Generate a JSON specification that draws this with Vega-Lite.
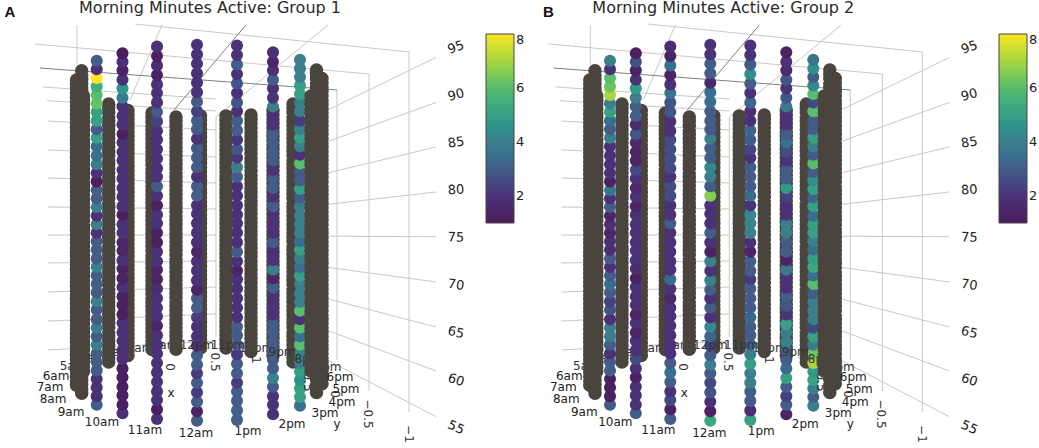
{
"$schema":"https://vega.github.io/schema/vega-lite/v6.json",
"width":1039,"height":448,"padding":0,
"autosize":{"type":"fit","contains":"padding"},
"config":{"view":{"stroke":null},"font":"DejaVu Sans"},
"datasets":{
"grid":[
{"x":436,"y":93.95,"x2":300,"y2":87.0},{"x":436,"y":89.21,"x2":300,"y2":84.05},{"x":436,"y":84.53,"x2":300,"y2":81.09},{"x":436,"y":79.79,"x2":300,"y2":78.15},{"x":436,"y":75.08,"x2":300,"y2":75.16},{"x":436,"y":70.32,"x2":300,"y2":72.25},{"x":436,"y":65.58,"x2":300,"y2":69.3},{"x":436,"y":60.95,"x2":300,"y2":66.3},{"x":436,"y":56.14,"x2":300,"y2":63.6},
{"x":43,"y":90.84,"x2":216,"y2":89.58},{"x":47,"y":89.4,"x2":216,"y2":88.32},{"x":48,"y":87.26,"x2":216,"y2":86.32},{"x":48,"y":84.21,"x2":216,"y2":83.47},{"x":48,"y":81.26,"x2":216,"y2":80.74},{"x":48,"y":78.21,"x2":216,"y2":78},{"x":48,"y":75.26,"x2":216,"y2":75.26},{"x":48,"y":72.32,"x2":216,"y2":72.53},{"x":48,"y":69.26,"x2":216,"y2":69.79},{"x":48,"y":66.21,"x2":216,"y2":66.95},{"x":48,"y":63.16,"x2":216,"y2":64.1},
{"x":77,"y":97.37,"x2":77,"y2":93.16},{"x":135,"y":97.47,"x2":409,"y2":94.53},{"x":35,"y":95.37,"x2":369,"y2":92.21},{"x":337,"y":90.53,"x2":337,"y2":62.11},{"x":369,"y":92.21,"x2":369,"y2":58.84},{"x":409,"y":94.53,"x2":409,"y2":56.63},{"x":216,"y":87.68,"x2":216,"y2":64.53},{"x":216,"y":87.68,"x2":328,"y2":97.37},{"x":130,"y":89.47,"x2":162,"y2":97.37}
],
"gridDark":[{"x":40,"y":92.84,"x2":337,"y2":90.53},{"x":174,"y":88.42,"x2":246,"y2":97.37}],
"zticks":[{"x":456,"y":95},{"x":456,"y":90},{"x":456,"y":85},{"x":456,"y":80},{"x":456,"y":75},{"x":456,"y":70},{"x":456,"y":65},{"x":456,"y":60},{"x":456,"y":55}],
"labelsUnder":[{"x":73,"y":61.47,"t":"5am"},{"x":92,"y":62.32,"t":"4am"},{"x":118,"y":62.95,"t":"3am"},{"x":140,"y":63.37,"t":"2am"},{"x":165,"y":63.68,"t":"1am"},{"x":256,"y":63.37,"t":"10pm"},{"x":328,"y":61.37,"t":"7pm"}],
"labelsTop":[{"x":197,"y":63.68,"t":"12pm"},{"x":228,"y":63.68,"t":"11pm"},{"x":282,"y":62.95,"t":"9pm"},{"x":308,"y":62.21,"t":"8pm"}],
"labelsFront":[{"x":56,"y":60.42,"t":"6am"},{"x":50,"y":59.26,"t":"7am"},{"x":53,"y":58.0,"t":"8am"},{"x":71,"y":56.63,"t":"9am"},{"x":102,"y":55.58,"t":"10am"},{"x":145,"y":54.74,"t":"11am"},{"x":196,"y":54.42,"t":"12am"},{"x":248,"y":54.63,"t":"1pm"},{"x":292,"y":55.37,"t":"2pm"},{"x":325,"y":56.53,"t":"3pm"},{"x":342,"y":57.68,"t":"4pm"},{"x":346,"y":59.05,"t":"5pm"},{"x":340,"y":60.32,"t":"6pm"},{"x":171,"y":58.63,"t":"x"},{"x":337,"y":55.37,"t":"y"}],
"axisTicks":[{"x":170,"y":61.37,"t":"0"},{"x":215,"y":61.89,"t":"0.5"},{"x":256,"y":62.11,"t":"1"},{"x":308,"y":59.79,"t":"0.5"},{"x":335,"y":58.53,"t":"0"},{"x":368,"y":56.42,"t":"−0.5"},{"x":409,"y":54.32,"t":"−1"}],
"darkBack":[{"hour":"4am","x":108.7,"y":89.05,"y2":61.89},{"hour":"3am","x":128,"y":88.37,"y2":62.56},{"hour":"2am","x":152,"y":88.1,"y2":62.95},{"hour":"1am","x":176,"y":87.68,"y2":63.16},{"hour":"12pm","x":200.5,"y":87.8,"y2":63.16},{"hour":"11pm","x":226,"y":87.8,"y2":63.16},{"hour":"10pm","x":251,"y":87.9,"y2":62.95},{"hour":"9pm","x":273,"y":88.37,"y2":62.56},{"hour":"8pm","x":293,"y":89.05,"y2":61.58}],
"darkFront":[{"hour":"5am","x":83.5,"y":89.9,"y2":60.74},{"hour":"6am","x":77,"y":90.74,"y2":60.0},{"hour":"7am","x":76.5,"y":91.58,"y2":59.26},{"hour":"8am","x":81.7,"y":92.56,"y2":58.32},{"hour":"7pm","x":311,"y":89.9,"y2":60.74},{"hour":"6pm","x":318,"y":90.74,"y2":60.0},{"hour":"5pm","x":322,"y":91.74,"y2":59.21},{"hour":"4pm","x":316.5,"y":92.63,"y2":58.24}],
"dots":[
{"hour":"9am","x":96.7,"y":57.4,"g1":3,"g2":3},{"hour":"9am","x":96.7,"y":58.3,"g1":2,"g2":1.2},{"hour":"9am","x":96.7,"y":59.2,"g1":2,"g2":1.2},{"hour":"9am","x":96.7,"y":60.1,"g1":2,"g2":1.2},{"hour":"9am","x":96.7,"y":61.0,"g1":3,"g2":3},{"hour":"9am","x":96.7,"y":61.9,"g1":3,"g2":3},{"hour":"9am","x":96.7,"y":62.8,"g1":3,"g2":2},{"hour":"9am","x":96.7,"y":63.7,"g1":4,"g2":3},{"hour":"9am","x":96.7,"y":64.6,"g1":3,"g2":4},{"hour":"9am","x":96.7,"y":65.5,"g1":4,"g2":4},{"hour":"9am","x":96.7,"y":66.4,"g1":3,"g2":2},{"hour":"9am","x":96.7,"y":67.4,"g1":3,"g2":2.7},{"hour":"9am","x":96.7,"y":68.3,"g1":4,"g2":2.3},{"hour":"9am","x":96.7,"y":69.2,"g1":3,"g2":3},{"hour":"9am","x":96.7,"y":70.1,"g1":3,"g2":3.5},{"hour":"9am","x":96.7,"y":71.0,"g1":3,"g2":3},{"hour":"9am","x":96.7,"y":71.9,"g1":4,"g2":2},{"hour":"9am","x":96.7,"y":72.8,"g1":3,"g2":3},{"hour":"9am","x":96.7,"y":73.7,"g1":3,"g2":1.8},{"hour":"9am","x":96.7,"y":74.6,"g1":3,"g2":2},{"hour":"9am","x":96.7,"y":75.5,"g1":2,"g2":1.5},{"hour":"9am","x":96.7,"y":76.4,"g1":4,"g2":2},{"hour":"9am","x":96.7,"y":77.3,"g1":2,"g2":1.4},{"hour":"9am","x":96.7,"y":78.2,"g1":4,"g2":3},{"hour":"9am","x":96.7,"y":79.1,"g1":3,"g2":2},{"hour":"9am","x":96.7,"y":80.0,"g1":3,"g2":3.7},{"hour":"9am","x":96.7,"y":80.9,"g1":1.2,"g2":1.3},{"hour":"9am","x":96.7,"y":81.8,"g1":2,"g2":2},{"hour":"9am","x":96.7,"y":82.7,"g1":4,"g2":2},{"hour":"9am","x":96.7,"y":83.6,"g1":3.5,"g2":2},{"hour":"9am","x":96.7,"y":84.6,"g1":3.5,"g2":2},{"hour":"9am","x":96.7,"y":85.5,"g1":5,"g2":4},{"hour":"9am","x":96.7,"y":86.4,"g1":3,"g2":3},{"hour":"9am","x":96.7,"y":87.3,"g1":5,"g2":3.5},{"hour":"9am","x":96.7,"y":88.2,"g1":5,"g2":5},{"hour":"9am","x":96.7,"y":89.1,"g1":6.2,"g2":4},{"hour":"9am","x":96.7,"y":90.0,"g1":6,"g2":7},{"hour":"9am","x":96.7,"y":90.9,"g1":5.5,"g2":6.3},{"hour":"9am","x":96.7,"y":91.8,"g1":8,"g2":6},{"hour":"9am","x":96.7,"y":92.7,"g1":2,"g2":2},{"hour":"9am","x":96.7,"y":93.6,"g1":3,"g2":4},
{"hour":"10am","x":122.5,"y":56.5,"g1":2,"g2":3},{"hour":"10am","x":122.5,"y":57.4,"g1":1.2,"g2":2},{"hour":"10am","x":122.5,"y":58.4,"g1":1.2,"g2":2},{"hour":"10am","x":122.5,"y":59.3,"g1":1.2,"g2":2},{"hour":"10am","x":122.5,"y":60.3,"g1":1.2,"g2":1.3},{"hour":"10am","x":122.5,"y":61.2,"g1":1.2,"g2":2},{"hour":"10am","x":122.5,"y":62.2,"g1":2,"g2":2.5},{"hour":"10am","x":122.5,"y":63.1,"g1":2,"g2":2},{"hour":"10am","x":122.5,"y":64.1,"g1":2,"g2":2},{"hour":"10am","x":122.5,"y":65.0,"g1":2,"g2":1.4},{"hour":"10am","x":122.5,"y":66.0,"g1":2,"g2":2},{"hour":"10am","x":122.5,"y":66.9,"g1":1.2,"g2":1.4},{"hour":"10am","x":122.5,"y":67.9,"g1":1.3,"g2":2},{"hour":"10am","x":122.5,"y":68.8,"g1":1.3,"g2":2},{"hour":"10am","x":122.5,"y":69.8,"g1":2,"g2":2},{"hour":"10am","x":122.5,"y":70.7,"g1":1.3,"g2":1.3},{"hour":"10am","x":122.5,"y":71.7,"g1":1.3,"g2":1.8},{"hour":"10am","x":122.5,"y":72.6,"g1":2,"g2":2},{"hour":"10am","x":122.5,"y":73.6,"g1":1.5,"g2":2},{"hour":"10am","x":122.5,"y":74.5,"g1":1.5,"g2":2},{"hour":"10am","x":122.5,"y":75.5,"g1":2,"g2":2},{"hour":"10am","x":122.5,"y":76.4,"g1":2,"g2":2},{"hour":"10am","x":122.5,"y":77.4,"g1":1.2,"g2":2},{"hour":"10am","x":122.5,"y":78.3,"g1":2,"g2":1.4},{"hour":"10am","x":122.5,"y":79.3,"g1":2,"g2":2},{"hour":"10am","x":122.5,"y":80.2,"g1":2,"g2":1.6},{"hour":"10am","x":122.5,"y":81.2,"g1":2,"g2":2},{"hour":"10am","x":122.5,"y":82.1,"g1":2,"g2":2.5},{"hour":"10am","x":122.5,"y":83.1,"g1":2,"g2":1.4},{"hour":"10am","x":122.5,"y":84.0,"g1":2,"g2":1.4},{"hour":"10am","x":122.5,"y":85.0,"g1":2,"g2":1.6},{"hour":"10am","x":122.5,"y":85.9,"g1":1.2,"g2":2.8},{"hour":"10am","x":122.5,"y":86.9,"g1":2,"g2":1.7},{"hour":"10am","x":122.5,"y":87.8,"g1":2,"g2":3},{"hour":"10am","x":122.5,"y":88.8,"g1":2,"g2":3},{"hour":"10am","x":122.5,"y":89.7,"g1":3.9,"g2":4},{"hour":"10am","x":122.5,"y":90.7,"g1":4.7,"g2":4.8},{"hour":"10am","x":122.5,"y":91.6,"g1":2,"g2":2},{"hour":"10am","x":122.5,"y":92.6,"g1":1.3,"g2":1.3},{"hour":"10am","x":122.5,"y":93.5,"g1":2,"g2":2.7},{"hour":"10am","x":122.5,"y":94.4,"g1":1,"g2":1.2},
{"hour":"11am","x":157,"y":55.9,"g1":2,"g2":3},{"hour":"11am","x":157,"y":56.9,"g1":1.2,"g2":1.3},{"hour":"11am","x":157,"y":57.9,"g1":2,"g2":2.5},{"hour":"11am","x":157,"y":58.8,"g1":2,"g2":2},{"hour":"11am","x":157,"y":59.8,"g1":2,"g2":3},{"hour":"11am","x":157,"y":60.8,"g1":2,"g2":3.5},{"hour":"11am","x":157,"y":61.8,"g1":2,"g2":3},{"hour":"11am","x":157,"y":62.8,"g1":2,"g2":2},{"hour":"11am","x":157,"y":63.7,"g1":2,"g2":2},{"hour":"11am","x":157,"y":64.7,"g1":2,"g2":2},{"hour":"11am","x":157,"y":65.7,"g1":1.5,"g2":2},{"hour":"11am","x":157,"y":66.7,"g1":2,"g2":2},{"hour":"11am","x":157,"y":67.6,"g1":2,"g2":2},{"hour":"11am","x":157,"y":68.6,"g1":2,"g2":1.6},{"hour":"11am","x":157,"y":69.6,"g1":1.8,"g2":2},{"hour":"11am","x":157,"y":70.6,"g1":1.4,"g2":3.4},{"hour":"11am","x":157,"y":71.6,"g1":1.4,"g2":2},{"hour":"11am","x":157,"y":72.5,"g1":2,"g2":2},{"hour":"11am","x":157,"y":73.5,"g1":2,"g2":2},{"hour":"11am","x":157,"y":74.5,"g1":1.3,"g2":2},{"hour":"11am","x":157,"y":75.5,"g1":1.3,"g2":2},{"hour":"11am","x":157,"y":76.5,"g1":2,"g2":3},{"hour":"11am","x":157,"y":77.4,"g1":2,"g2":2},{"hour":"11am","x":157,"y":78.4,"g1":1.3,"g2":2},{"hour":"11am","x":157,"y":79.4,"g1":2,"g2":2.6},{"hour":"11am","x":157,"y":80.4,"g1":3,"g2":2.6},{"hour":"11am","x":157,"y":81.4,"g1":2,"g2":2},{"hour":"11am","x":157,"y":82.3,"g1":2,"g2":2.6},{"hour":"11am","x":157,"y":83.3,"g1":2,"g2":2.6},{"hour":"11am","x":157,"y":84.3,"g1":2,"g2":2.6},{"hour":"11am","x":157,"y":85.3,"g1":2,"g2":2.6},{"hour":"11am","x":157,"y":86.2,"g1":2,"g2":1.9},{"hour":"11am","x":157,"y":87.2,"g1":2.3,"g2":1.9},{"hour":"11am","x":157,"y":88.2,"g1":3,"g2":2.8},{"hour":"11am","x":157,"y":89.2,"g1":2,"g2":2.8},{"hour":"11am","x":157,"y":90.2,"g1":2,"g2":3.7},{"hour":"11am","x":157,"y":91.1,"g1":2,"g2":2},{"hour":"11am","x":157,"y":92.1,"g1":1.3,"g2":1.4},{"hour":"11am","x":157,"y":93.1,"g1":1.8,"g2":3.5},{"hour":"11am","x":157,"y":94.1,"g1":1.2,"g2":1.3},{"hour":"11am","x":157,"y":95.1,"g1":2,"g2":1.8},
{"hour":"12am","x":197,"y":55.7,"g1":3,"g2":5.3},{"hour":"12am","x":197,"y":56.7,"g1":1.4,"g2":1.3},{"hour":"12am","x":197,"y":57.7,"g1":3,"g2":2},{"hour":"12am","x":197,"y":58.7,"g1":2.2,"g2":2.8},{"hour":"12am","x":197,"y":59.7,"g1":3,"g2":2.5},{"hour":"12am","x":197,"y":60.7,"g1":2.2,"g2":3},{"hour":"12am","x":197,"y":61.6,"g1":3,"g2":4},{"hour":"12am","x":197,"y":62.6,"g1":3,"g2":3},{"hour":"12am","x":197,"y":63.6,"g1":2,"g2":2.3},{"hour":"12am","x":197,"y":64.6,"g1":2,"g2":3.3},{"hour":"12am","x":197,"y":65.6,"g1":2,"g2":4.2},{"hour":"12am","x":197,"y":66.6,"g1":2.2,"g2":2},{"hour":"12am","x":197,"y":67.6,"g1":3,"g2":3},{"hour":"12am","x":197,"y":68.6,"g1":3,"g2":2},{"hour":"12am","x":197,"y":69.5,"g1":1.5,"g2":3},{"hour":"12am","x":197,"y":70.5,"g1":2,"g2":4},{"hour":"12am","x":197,"y":71.5,"g1":2,"g2":2},{"hour":"12am","x":197,"y":72.5,"g1":2,"g2":4},{"hour":"12am","x":197,"y":73.5,"g1":1.5,"g2":1.3},{"hour":"12am","x":197,"y":74.5,"g1":2,"g2":2},{"hour":"12am","x":197,"y":75.5,"g1":2,"g2":3},{"hour":"12am","x":197,"y":76.5,"g1":2,"g2":2},{"hour":"12am","x":197,"y":77.5,"g1":2,"g2":2},{"hour":"12am","x":197,"y":78.4,"g1":2,"g2":2},{"hour":"12am","x":197,"y":79.4,"g1":3,"g2":6.6},{"hour":"12am","x":197,"y":80.4,"g1":3,"g2":3},{"hour":"12am","x":197,"y":81.4,"g1":2,"g2":4},{"hour":"12am","x":197,"y":82.4,"g1":3,"g2":4.2},{"hour":"12am","x":197,"y":83.4,"g1":3,"g2":3},{"hour":"12am","x":197,"y":84.4,"g1":3,"g2":3},{"hour":"12am","x":197,"y":85.4,"g1":2,"g2":4},{"hour":"12am","x":197,"y":86.4,"g1":3,"g2":3},{"hour":"12am","x":197,"y":87.3,"g1":3,"g2":3},{"hour":"12am","x":197,"y":88.3,"g1":2.3,"g2":3},{"hour":"12am","x":197,"y":89.3,"g1":3,"g2":3.5},{"hour":"12am","x":197,"y":90.3,"g1":2,"g2":3.5},{"hour":"12am","x":197,"y":91.3,"g1":2,"g2":1.6},{"hour":"12am","x":197,"y":92.3,"g1":2,"g2":3},{"hour":"12am","x":197,"y":93.3,"g1":2,"g2":3},{"hour":"12am","x":197,"y":94.3,"g1":2,"g2":2},{"hour":"12am","x":197,"y":95.3,"g1":2,"g2":2},
{"hour":"1pm","x":237,"y":55.8,"g1":3,"g2":5},{"hour":"1pm","x":237,"y":56.8,"g1":3.2,"g2":1.8},{"hour":"1pm","x":237,"y":57.8,"g1":3,"g2":3},{"hour":"1pm","x":237,"y":58.8,"g1":3,"g2":3},{"hour":"1pm","x":237,"y":59.7,"g1":2.2,"g2":4},{"hour":"1pm","x":237,"y":60.7,"g1":3,"g2":4},{"hour":"1pm","x":237,"y":61.7,"g1":3,"g2":5},{"hour":"1pm","x":237,"y":62.7,"g1":2.2,"g2":4},{"hour":"1pm","x":237,"y":63.7,"g1":3,"g2":3},{"hour":"1pm","x":237,"y":64.7,"g1":3,"g2":3},{"hour":"1pm","x":237,"y":65.6,"g1":3,"g2":3},{"hour":"1pm","x":237,"y":66.6,"g1":2,"g2":3.3},{"hour":"1pm","x":237,"y":67.6,"g1":2,"g2":3},{"hour":"1pm","x":237,"y":68.6,"g1":2,"g2":3},{"hour":"1pm","x":237,"y":69.6,"g1":2,"g2":3},{"hour":"1pm","x":237,"y":70.6,"g1":2,"g2":2.2},{"hour":"1pm","x":237,"y":71.5,"g1":1.4,"g2":3},{"hour":"1pm","x":237,"y":72.5,"g1":2,"g2":3},{"hour":"1pm","x":237,"y":73.5,"g1":3,"g2":1.4},{"hour":"1pm","x":237,"y":74.5,"g1":2,"g2":2},{"hour":"1pm","x":237,"y":75.5,"g1":2,"g2":4},{"hour":"1pm","x":237,"y":76.5,"g1":2,"g2":4},{"hour":"1pm","x":237,"y":77.4,"g1":2,"g2":4.3},{"hour":"1pm","x":237,"y":78.4,"g1":2,"g2":2},{"hour":"1pm","x":237,"y":79.4,"g1":2,"g2":3.4},{"hour":"1pm","x":237,"y":80.4,"g1":2,"g2":3},{"hour":"1pm","x":237,"y":81.4,"g1":3,"g2":3},{"hour":"1pm","x":237,"y":82.4,"g1":4,"g2":3},{"hour":"1pm","x":237,"y":83.4,"g1":2.1,"g2":2},{"hour":"1pm","x":237,"y":84.3,"g1":2.8,"g2":2.4},{"hour":"1pm","x":237,"y":85.3,"g1":2.1,"g2":3},{"hour":"1pm","x":237,"y":86.3,"g1":3,"g2":3.2},{"hour":"1pm","x":237,"y":87.3,"g1":3,"g2":2},{"hour":"1pm","x":237,"y":88.3,"g1":2,"g2":2},{"hour":"1pm","x":237,"y":89.2,"g1":2.8,"g2":3.3},{"hour":"1pm","x":237,"y":90.2,"g1":2,"g2":2},{"hour":"1pm","x":237,"y":91.2,"g1":2.8,"g2":3},{"hour":"1pm","x":237,"y":92.2,"g1":2,"g2":4.4},{"hour":"1pm","x":237,"y":93.2,"g1":3,"g2":3},{"hour":"1pm","x":237,"y":94.2,"g1":2,"g2":2},{"hour":"1pm","x":237,"y":95.2,"g1":2,"g2":2},
{"hour":"2pm","x":273,"y":56.4,"g1":2,"g2":1.4},{"hour":"2pm","x":273,"y":57.4,"g1":2,"g2":3},{"hour":"2pm","x":273,"y":58.3,"g1":2,"g2":2.3},{"hour":"2pm","x":273,"y":59.3,"g1":3,"g2":3},{"hour":"2pm","x":273,"y":60.2,"g1":4,"g2":5},{"hour":"2pm","x":273,"y":61.2,"g1":3,"g2":3.4},{"hour":"2pm","x":273,"y":62.1,"g1":3,"g2":3},{"hour":"2pm","x":273,"y":63.1,"g1":3,"g2":3},{"hour":"2pm","x":273,"y":64.0,"g1":3,"g2":4},{"hour":"2pm","x":273,"y":65.0,"g1":3,"g2":4},{"hour":"2pm","x":273,"y":65.9,"g1":3,"g2":5},{"hour":"2pm","x":273,"y":66.9,"g1":2,"g2":2},{"hour":"2pm","x":273,"y":67.8,"g1":2,"g2":2.8},{"hour":"2pm","x":273,"y":68.8,"g1":2,"g2":3},{"hour":"2pm","x":273,"y":69.7,"g1":3,"g2":2},{"hour":"2pm","x":273,"y":70.7,"g1":1.4,"g2":2},{"hour":"2pm","x":273,"y":71.6,"g1":4,"g2":3.8},{"hour":"2pm","x":273,"y":72.6,"g1":2,"g2":1.4},{"hour":"2pm","x":273,"y":73.5,"g1":2,"g2":3},{"hour":"2pm","x":273,"y":74.5,"g1":3,"g2":3},{"hour":"2pm","x":273,"y":75.5,"g1":2,"g2":4},{"hour":"2pm","x":273,"y":76.4,"g1":2,"g2":4},{"hour":"2pm","x":273,"y":77.4,"g1":2,"g2":2},{"hour":"2pm","x":273,"y":78.3,"g1":3,"g2":2},{"hour":"2pm","x":273,"y":79.3,"g1":2,"g2":2.3},{"hour":"2pm","x":273,"y":80.2,"g1":3,"g2":4.8},{"hour":"2pm","x":273,"y":81.2,"g1":3,"g2":3},{"hour":"2pm","x":273,"y":82.1,"g1":2,"g2":3},{"hour":"2pm","x":273,"y":83.1,"g1":3,"g2":2},{"hour":"2pm","x":273,"y":84.0,"g1":3,"g2":2.6},{"hour":"2pm","x":273,"y":85.0,"g1":3,"g2":3.6},{"hour":"2pm","x":273,"y":85.9,"g1":3,"g2":3},{"hour":"2pm","x":273,"y":86.9,"g1":2,"g2":2},{"hour":"2pm","x":273,"y":87.8,"g1":2,"g2":2},{"hour":"2pm","x":273,"y":88.8,"g1":4,"g2":3.8},{"hour":"2pm","x":273,"y":89.7,"g1":2,"g2":2.8},{"hour":"2pm","x":273,"y":90.7,"g1":2,"g2":2},{"hour":"2pm","x":273,"y":91.6,"g1":3,"g2":2.8},{"hour":"2pm","x":273,"y":92.6,"g1":2,"g2":1.7},{"hour":"2pm","x":273,"y":93.5,"g1":1.4,"g2":2},{"hour":"2pm","x":273,"y":94.5,"g1":2,"g2":1.3},
{"hour":"3pm","x":300,"y":57.3,"g1":3.5,"g2":4},{"hour":"3pm","x":300,"y":58.2,"g1":5,"g2":3},{"hour":"3pm","x":300,"y":59.1,"g1":5,"g2":4},{"hour":"3pm","x":300,"y":60.0,"g1":4.5,"g2":5},{"hour":"3pm","x":300,"y":60.9,"g1":5,"g2":4.8},{"hour":"3pm","x":300,"y":61.8,"g1":4,"g2":7},{"hour":"3pm","x":300,"y":62.8,"g1":4,"g2":6.3},{"hour":"3pm","x":300,"y":63.7,"g1":6,"g2":4},{"hour":"3pm","x":300,"y":64.6,"g1":3.5,"g2":5},{"hour":"3pm","x":300,"y":65.5,"g1":6,"g2":2.5},{"hour":"3pm","x":300,"y":66.4,"g1":2,"g2":4},{"hour":"3pm","x":300,"y":67.3,"g1":6,"g2":4},{"hour":"3pm","x":300,"y":68.2,"g1":4,"g2":4},{"hour":"3pm","x":300,"y":69.1,"g1":4,"g2":3},{"hour":"3pm","x":300,"y":70.1,"g1":4,"g2":6},{"hour":"3pm","x":300,"y":71.0,"g1":5,"g2":3.5},{"hour":"3pm","x":300,"y":71.9,"g1":3.5,"g2":5.3},{"hour":"3pm","x":300,"y":72.8,"g1":4,"g2":5},{"hour":"3pm","x":300,"y":73.7,"g1":5,"g2":3.5},{"hour":"3pm","x":300,"y":74.6,"g1":3.5,"g2":4},{"hour":"3pm","x":300,"y":75.5,"g1":4,"g2":5},{"hour":"3pm","x":300,"y":76.4,"g1":4,"g2":5},{"hour":"3pm","x":300,"y":77.3,"g1":4,"g2":3.5},{"hour":"3pm","x":300,"y":78.3,"g1":4,"g2":5},{"hour":"3pm","x":300,"y":79.2,"g1":3,"g2":3.3},{"hour":"3pm","x":300,"y":80.1,"g1":5,"g2":5},{"hour":"3pm","x":300,"y":81.0,"g1":3,"g2":4.5},{"hour":"3pm","x":300,"y":81.9,"g1":3,"g2":3},{"hour":"3pm","x":300,"y":82.8,"g1":6,"g2":6},{"hour":"3pm","x":300,"y":83.7,"g1":2,"g2":3},{"hour":"3pm","x":300,"y":84.6,"g1":4,"g2":4},{"hour":"3pm","x":300,"y":85.5,"g1":5,"g2":5},{"hour":"3pm","x":300,"y":86.4,"g1":4,"g2":3},{"hour":"3pm","x":300,"y":87.3,"g1":2.2,"g2":3},{"hour":"3pm","x":300,"y":88.3,"g1":4,"g2":6},{"hour":"3pm","x":300,"y":89.2,"g1":4,"g2":2.5},{"hour":"3pm","x":300,"y":90.1,"g1":5,"g2":6},{"hour":"3pm","x":300,"y":91.0,"g1":5,"g2":4.3},{"hour":"3pm","x":300,"y":91.9,"g1":4,"g2":3},{"hour":"3pm","x":300,"y":92.8,"g1":4,"g2":4.5},{"hour":"3pm","x":300,"y":93.7,"g1":4,"g2":3.7}
]
},
"resolve":{"scale":{"x":"independent","color":"independent"}},
"layer":[
{"encoding":{
"x":{"field":"x","type":"quantitative","axis":null,"scale":{"domain":[0,1039]}},
"y":{"field":"y","type":"quantitative","axis":null,"scale":{"domain":[52.84,100]}}},
"layer":[
{"data":{"name":"grid"},"mark":{"type":"rule","stroke":"#cbc8c5","strokeWidth":1},"encoding":{"x2":{"field":"x2"},"y2":{"field":"y2"}}},
{"data":{"name":"gridDark"},"mark":{"type":"rule","stroke":"#808080","strokeWidth":1},"encoding":{"x2":{"field":"x2"},"y2":{"field":"y2"}}},
{"data":{"name":"zticks"},"mark":{"type":"text","fontSize":13,"color":"#222"},"encoding":{"text":{"field":"y"},"angle":{"field":"y","type":"quantitative","legend":null,"scale":{"domain":[55,95],"range":[24,-20]}}}},
{"data":{"name":"labelsUnder"},"mark":{"type":"text","fontSize":12,"color":"#333"},"encoding":{"text":{"field":"t"}}},
{"data":{"name":"darkBack"},"mark":{"type":"rule","stroke":"#4a443f","strokeWidth":13.5,"strokeCap":"round","strokeDash":[0,4.3]},"encoding":{"y2":{"field":"y2"}}},
{"data":{"name":"dots"},"mark":{"type":"circle","size":145,"opacity":1},"encoding":{"color":{"field":"g1","type":"quantitative","scale":{"domain":[1,8],"range":["#4a1c5a","#4b3278","#445c88","#3c7f8c","#38a084","#58bd6c","#a8d540","#fce625"]},"legend":{"orient":"none","legendX":486,"legendY":34,"title":null,"gradientLength":189,"gradientThickness":28,"values":[2,4,6,8],"labelFontSize":13,"labelColor":"#222","gradientStrokeColor":"#444","gradientStrokeWidth":1}}}},
{"data":{"name":"labelsTop"},"mark":{"type":"text","fontSize":12,"color":"#333"},"encoding":{"text":{"field":"t"}}},
{"data":{"name":"axisTicks"},"mark":{"type":"text","fontSize":12,"color":"#333","angle":90},"encoding":{"text":{"field":"t"}}},
{"data":{"name":"darkFront"},"mark":{"type":"rule","stroke":"#4a443f","strokeWidth":13.5,"strokeCap":"round","strokeDash":[0,4.3]},"encoding":{"y2":{"field":"y2"}}},
{"data":{"name":"labelsFront"},"mark":{"type":"text","fontSize":12,"color":"#222"},"encoding":{"text":{"field":"t"}}},
{"data":{"values":[{"x":210,"y":99.15,"t":"Morning Minutes Active: Group 1"}]},"mark":{"type":"text","fontSize":16,"color":"#2a2a2a"},"encoding":{"text":{"field":"t"}}},
{"data":{"values":[{"x":10,"y":98.7,"t":"A"}]},"mark":{"type":"text","fontSize":15,"fontWeight":"bold","font":"Liberation Sans","color":"#111"},"encoding":{"text":{"field":"t"}}}
]},
{"encoding":{
"x":{"field":"x","type":"quantitative","axis":null,"scale":{"domain":[-513.3,525.7]}},
"y":{"field":"y","type":"quantitative","axis":null,"scale":{"domain":[52.84,100]}}},
"layer":[
{"data":{"name":"grid"},"mark":{"type":"rule","stroke":"#cbc8c5","strokeWidth":1},"encoding":{"x2":{"field":"x2"},"y2":{"field":"y2"}}},
{"data":{"name":"gridDark"},"mark":{"type":"rule","stroke":"#808080","strokeWidth":1},"encoding":{"x2":{"field":"x2"},"y2":{"field":"y2"}}},
{"data":{"name":"zticks"},"mark":{"type":"text","fontSize":13,"color":"#222"},"encoding":{"text":{"field":"y"},"angle":{"field":"y","type":"quantitative","legend":null,"scale":{"domain":[55,95],"range":[24,-20]}}}},
{"data":{"name":"labelsUnder"},"mark":{"type":"text","fontSize":12,"color":"#333"},"encoding":{"text":{"field":"t"}}},
{"data":{"name":"darkBack"},"mark":{"type":"rule","stroke":"#4a443f","strokeWidth":13.5,"strokeCap":"round","strokeDash":[0,4.3]},"encoding":{"y2":{"field":"y2"}}},
{"data":{"name":"dots"},"mark":{"type":"circle","size":145,"opacity":1},"encoding":{"color":{"field":"g2","type":"quantitative","scale":{"domain":[1,8],"range":["#4a1c5a","#4b3278","#445c88","#3c7f8c","#38a084","#58bd6c","#a8d540","#fce625"]},"legend":{"orient":"none","legendX":999,"legendY":34,"title":null,"gradientLength":189,"gradientThickness":28,"values":[2,4,6,8],"labelFontSize":13,"labelColor":"#222","gradientStrokeColor":"#444","gradientStrokeWidth":1}}}},
{"data":{"name":"labelsTop"},"mark":{"type":"text","fontSize":12,"color":"#333"},"encoding":{"text":{"field":"t"}}},
{"data":{"name":"axisTicks"},"mark":{"type":"text","fontSize":12,"color":"#333","angle":90},"encoding":{"text":{"field":"t"}}},
{"data":{"name":"darkFront"},"mark":{"type":"rule","stroke":"#4a443f","strokeWidth":13.5,"strokeCap":"round","strokeDash":[0,4.3]},"encoding":{"y2":{"field":"y2"}}},
{"data":{"name":"labelsFront"},"mark":{"type":"text","fontSize":12,"color":"#222"},"encoding":{"text":{"field":"t"}}},
{"data":{"values":[{"x":210,"y":99.15,"t":"Morning Minutes Active: Group 2"}]},"mark":{"type":"text","fontSize":16,"color":"#2a2a2a"},"encoding":{"text":{"field":"t"}}},
{"data":{"values":[{"x":35,"y":98.7,"t":"B"}]},"mark":{"type":"text","fontSize":15,"fontWeight":"bold","font":"Liberation Sans","color":"#111"},"encoding":{"text":{"field":"t"}}}
]}
]
}
